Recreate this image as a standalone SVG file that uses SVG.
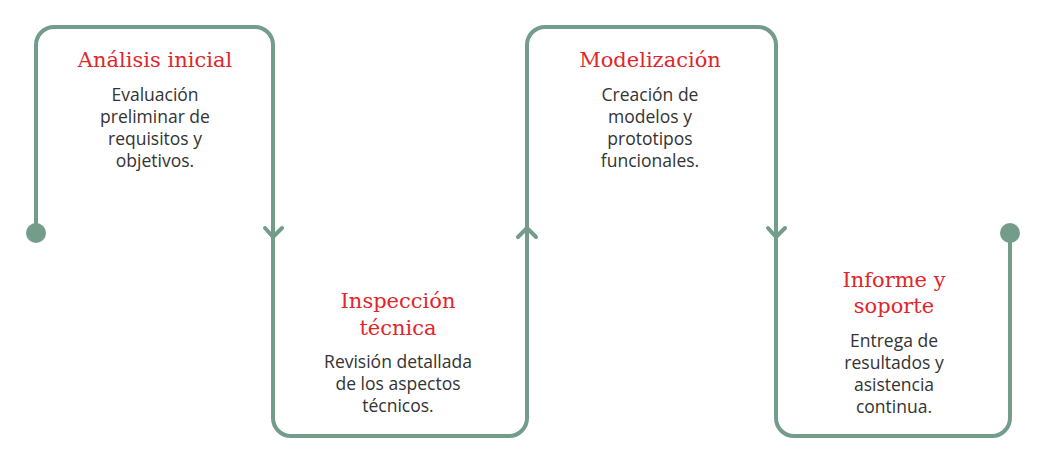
<svg xmlns="http://www.w3.org/2000/svg" width="1047" height="466" viewBox="0 0 1047 466">
<style>
.line{fill:none;stroke:#739c8b;stroke-width:4;stroke-linecap:round;stroke-linejoin:round}
.dot{fill:#739c8b}
.title{font-family:"DejaVu Serif","Liberation Serif",serif;font-size:21px;fill:#e0262b;text-anchor:middle}
.body{font-family:"Open Sans","Liberation Sans",sans-serif;font-size:17.5px;fill:#333333;text-anchor:middle}
</style>
<rect width="1047" height="466" fill="#ffffff"/>
<g id="connectors">
<path class="line" d="M36,233 V45 A18,18 0 0 1 54,27 H255 A18,18 0 0 1 273,45 V418 A18,18 0 0 0 291,436 H509 A18,18 0 0 0 527,418 V45 A18,18 0 0 1 545,27 H758 A18,18 0 0 1 776,45 V418 A18,18 0 0 0 794,436 H992 A18,18 0 0 0 1010,418 V233"/>
<polyline class="line" points="265,228 273,237 282,228"/>
<polyline class="line" points="518,237 527,228 536,237"/>
<polyline class="line" points="768,228 776,237 785,228"/>
<circle class="dot" cx="36" cy="233" r="10"/>
<circle class="dot" cx="1010" cy="233" r="10"/>
</g>
<g id="node1">
<text class="title" x="155" y="67">Análisis inicial</text>
<text class="body" x="155" y="101">Evaluación</text>
<text class="body" x="155" y="123">preliminar de</text>
<text class="body" x="155" y="145">requisitos y</text>
<text class="body" x="155" y="167">objetivos.</text>
</g>
<g id="node2">
<text class="title" x="398" y="308">Inspección</text>
<text class="title" x="398" y="335">técnica</text>
<text class="body" x="398" y="368">Revisión detallada</text>
<text class="body" x="398" y="390">de los aspectos</text>
<text class="body" x="398" y="412">técnicos.</text>
</g>
<g id="node3">
<text class="title" x="650" y="67">Modelización</text>
<text class="body" x="650" y="101">Creación de</text>
<text class="body" x="650" y="123">modelos y</text>
<text class="body" x="650" y="145">prototipos</text>
<text class="body" x="650" y="167">funcionales.</text>
</g>
<g id="node4">
<text class="title" x="894" y="287">Informe y</text>
<text class="title" x="894" y="313">soporte</text>
<text class="body" x="894" y="347">Entrega de</text>
<text class="body" x="894" y="369">resultados y</text>
<text class="body" x="894" y="391">asistencia</text>
<text class="body" x="894" y="413">continua.</text>
</g>
</svg>
